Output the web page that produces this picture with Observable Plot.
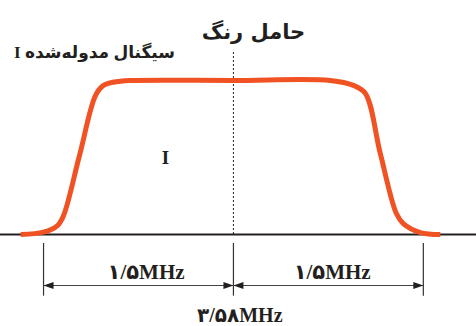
<!DOCTYPE html>
<html>
<head>
<meta charset="utf-8">
<script src="https://cdn.jsdelivr.net/npm/d3@7"></script>
<script src="https://cdn.jsdelivr.net/npm/@observablehq/plot@0.6"></script>
<style>
  html, body { margin: 0; padding: 0; background: #fff; }
  #chart { width: 476px; height: 326px; }
</style>
</head>
<body>
<div id="chart"></div>
<script>
// Frequency offset from the colour carrier (MHz) and relative amplitude
const curveFreq = [-1.68, -1.50, -1.39, -1.342, -1.216, -1.089, -1.026, -0.892, -0.789, 0.0, 0.766, 0.947, 1.042, 1.160, 1.287, 1.342, 1.476, 1.634];
const curveAmp  = [0.0, 0.015, 0.058, 0.123, 0.513, 0.903, 0.968, 0.995, 1.0, 1.0, 1.0, 0.968, 0.916, 0.526, 0.136, 0.071, 0.013, 0.0];

// Bandwidth markers (MHz)
const bandEdges = [-1.5, 0, 1.5];
const bandLabels = ["۱/۵MHz", "۱/۵MHz"];
const carrierLabel = "حامل رنگ";
const signalLabel = "\u202Bسیگنال مدوله‌شده I\u202C";
const insideLabel = "I";
const totalLabel = "۳/۵۸MHz";

const curve = curveFreq.map((f, i) => ({f, a: curveAmp[i]}));
const segments = [
  {x1: bandEdges[0], x2: bandEdges[1]},
  {x1: bandEdges[1], x2: bandEdges[2]}
];
const heads = [
  {f: bandEdges[0], dir: 180},
  {f: bandEdges[1], dir: 0},
  {f: bandEdges[1], dir: 180},
  {f: bandEdges[2], dir: 0}
];
const dimY = -0.331;
const labelY = -0.247;

// Elongated filled arrowhead with its tip at the origin, pointing right
const arrowHead = {
  draw(ctx, size) {
    const L = 10, W = 3.6;
    ctx.moveTo(0, 0);
    ctx.lineTo(-L, -W);
    ctx.lineTo(-L, W);
    ctx.closePath();
  }
};

const fontLatin = "'Liberation Serif', 'DejaVu Sans', serif";
const fontFa = "'DejaVu Sans', 'Liberation Serif', sans-serif";

const plot = Plot.plot({
  width: 476,
  height: 326,
  margin: 0,
  x: {domain: [-1.84, 1.92], axis: null},
  y: {domain: [-0.597, 1.519], axis: null},
  marks: [
    // baseline
    Plot.ruleY([0], {stroke: "#231f20", strokeWidth: 2.2}),
    // carrier dotted line
    Plot.ruleX([0], {y1: 0, y2: 1.195, stroke: "#231f20", strokeWidth: 1, strokeDasharray: "2,2"}),
    // spectrum curve
    Plot.line(curve, {x: "f", y: "a", curve: "catmull-rom", stroke: "#f15224", strokeWidth: 5, strokeLinecap: "butt", strokeLinejoin: "round"}),
    // dimension ticks
    Plot.ruleX(bandEdges, {y1: -0.058, y2: -0.40, stroke: "#333", strokeWidth: 1.2}),
    // dimension lines
    Plot.link(segments, {x1: "x1", x2: "x2", y1: dimY, y2: dimY, stroke: "#444", strokeWidth: 1.1}),
    // arrowheads
    Plot.dot(heads, {x: "f", y: dimY, symbol: arrowHead, rotate: "dir", fill: "#231f20", stroke: "none", r: 4}),
    // labels
    Plot.text(bandLabels, {x: [-0.69, 0.78], y: labelY, text: d => d, fontSize: 21, fontWeight: "bold", fontFamily: fontLatin, fill: "#231f20"}),
    Plot.text([totalLabel], {x: 0.05, y: -0.525, text: d => d, fontSize: 20, fontWeight: "bold", fontFamily: fontLatin, fill: "#231f20"}),
    Plot.text([carrierLabel], {x: 0.158, y: 1.312, text: d => d, fontSize: 21, fontWeight: "bold", fontFamily: fontFa, fill: "#231f20"}),
    Plot.text([signalLabel], {x: -1.097, y: 1.182, text: d => d, fontSize: 17, fontWeight: "bold", fontFamily: fontLatin, fill: "#231f20"}),
    Plot.text([insideLabel], {x: -0.537, y: 0.495, text: d => d, fontSize: 19, fontWeight: "bold", fontFamily: fontLatin, fill: "#231f20"})
  ]
});
document.getElementById("chart").appendChild(plot);
</script>
</body>
</html>
